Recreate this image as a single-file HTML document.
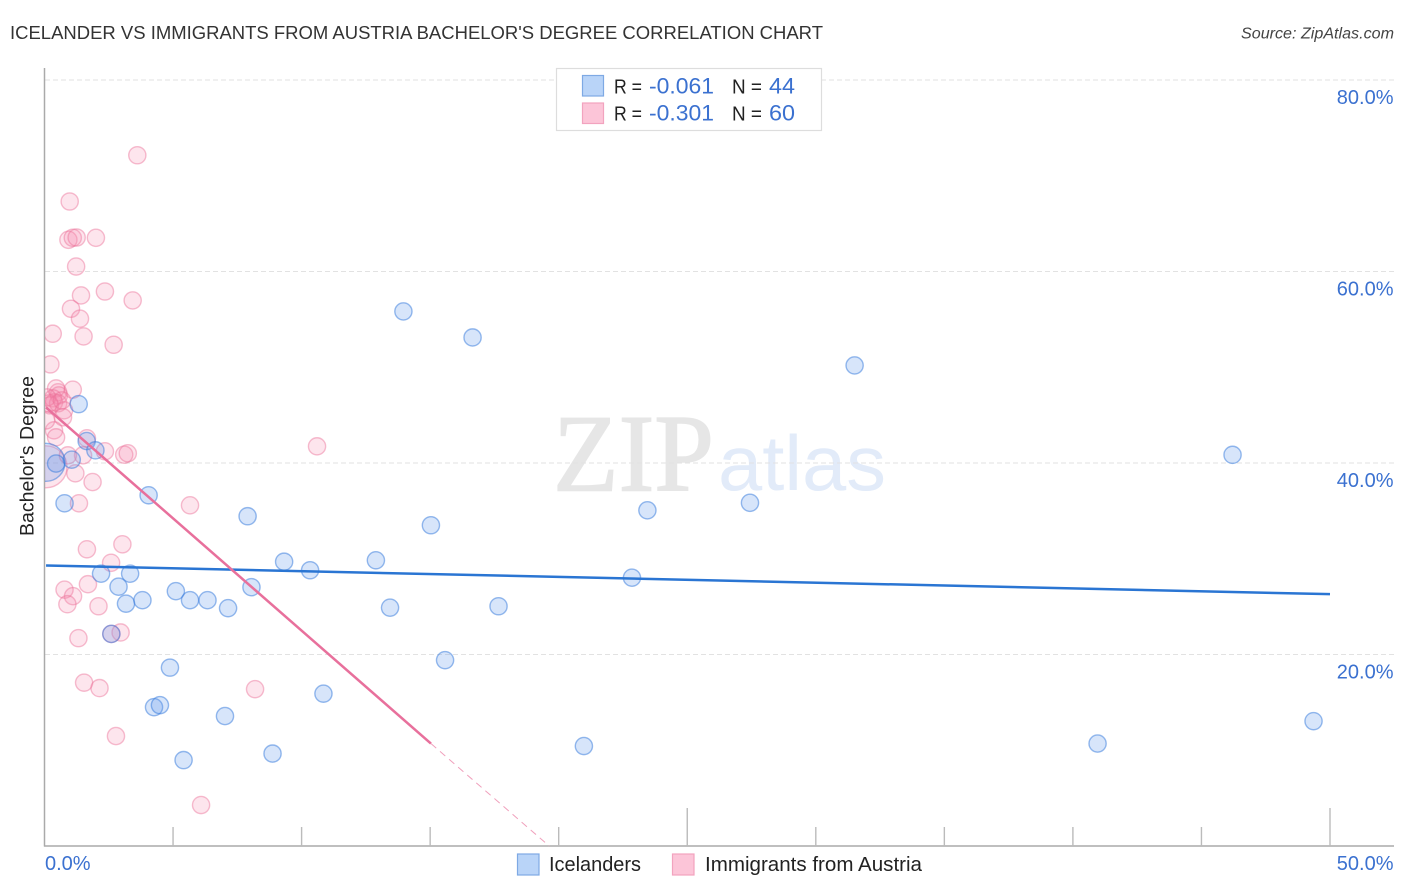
<!DOCTYPE html>
<html lang="en">
<head>
<meta charset="utf-8">
<title>Icelander vs Immigrants from Austria Bachelor's Degree Correlation Chart</title>
<style>
html,body{margin:0;padding:0;background:#fff;width:1406px;height:892px;overflow:hidden}
svg{display:block;font-family:"Liberation Sans",sans-serif}
</style>
</head>
<body>
<svg id="chart" xmlns="http://www.w3.org/2000/svg" width="1406" height="892" viewBox="0 0 1406 892">
  <defs>
    <clipPath id="plot-clip"><rect x="45" y="60" width="1349" height="786"/></clipPath>
  </defs>
  <rect x="0" y="0" width="1406" height="892" fill="#fff"/>
  <text x="10" y="39" font-size="18.5" fill="#333" textLength="813" lengthAdjust="spacingAndGlyphs">ICELANDER VS IMMIGRANTS FROM AUSTRIA BACHELOR'S DEGREE CORRELATION CHART</text>
  <text x="1241" y="38.5" font-size="15.5" font-style="italic" fill="#444" textLength="153" lengthAdjust="spacingAndGlyphs">Source: ZipAtlas.com</text>

  <g>
    <text x="553" y="490.5" font-family="'Liberation Serif',serif" font-size="110" fill="#e6e6e6" stroke="#e6e6e6" stroke-width="1.5" textLength="161" lengthAdjust="spacingAndGlyphs">ZIP</text>
    <text x="718" y="490" font-size="78" fill="#e2ebf9" textLength="168" lengthAdjust="spacingAndGlyphs">atlas</text>
  </g>

  <g id="grid"></g>
  <g id="axes"></g>
  <g id="points" clip-path="url(#plot-clip)"></g>
  <g id="trends"></g>
  <g id="tick-labels"></g>

  <text transform="translate(33.5,536) rotate(-90)" font-size="19.5" fill="#222" textLength="160" lengthAdjust="spacingAndGlyphs">Bachelor's Degree</text>

  <g>
    <rect x="556.5" y="68.5" width="265" height="62" fill="#fff" stroke="#ddd" stroke-width="1.2"/>
    <rect x="582.5" y="75.5" width="21" height="20.5" fill="#b9d4f8" stroke="#7ea9e4" stroke-width="1.2"/>
    <rect x="582.5" y="103" width="21" height="20.5" fill="#fcc5d8" stroke="#f2a3bf" stroke-width="1.2"/>
    <text x="614" y="93.5" font-size="20" fill="#222" textLength="28" lengthAdjust="spacingAndGlyphs">R =</text>
    <text x="649" y="93.5" font-size="22" fill="#3b71d0" textLength="65" lengthAdjust="spacingAndGlyphs">-0.061</text>
    <text x="732" y="93.5" font-size="20" fill="#222" textLength="30" lengthAdjust="spacingAndGlyphs">N =</text>
    <text x="769" y="93.5" font-size="22" fill="#3b71d0" textLength="26" lengthAdjust="spacingAndGlyphs">44</text>
    <text x="614" y="120.5" font-size="20" fill="#222" textLength="28" lengthAdjust="spacingAndGlyphs">R =</text>
    <text x="649" y="120.5" font-size="22" fill="#3b71d0" textLength="65" lengthAdjust="spacingAndGlyphs">-0.301</text>
    <text x="732" y="120.5" font-size="20" fill="#222" textLength="30" lengthAdjust="spacingAndGlyphs">N =</text>
    <text x="769" y="120.5" font-size="22" fill="#3b71d0" textLength="26" lengthAdjust="spacingAndGlyphs">60</text>
  </g>

  <g>
    <rect x="517.5" y="854" width="21.5" height="21" fill="#b9d4f8" stroke="#7ea9e4" stroke-width="1.2"/>
    <text x="549" y="871" font-size="20" fill="#222" textLength="92" lengthAdjust="spacingAndGlyphs">Icelanders</text>
    <rect x="672.5" y="854" width="21.5" height="21" fill="#fcc5d8" stroke="#f2a3bf" stroke-width="1.2"/>
    <text x="705" y="871" font-size="20" fill="#222" textLength="217" lengthAdjust="spacingAndGlyphs">Immigrants from Austria</text>
  </g>
</svg>
<script>
const yTickValues = [20, 40, 60, 80];
const yTickLabels = ["20.0%", "40.0%", "60.0%", "80.0%"];
const xTickValues = [0, 5, 10, 15, 20, 25, 30, 35, 40, 45, 50];
const xMajorTicks = [25, 50];
const xEndLabels = ["0.0%", "50.0%"];

const icelanderX = [13.96,16.65,31.51,46.21,1.33,1.64,1.98,1.06,0.45,0.78,4.05,7.90,15.03,23.45,27.44,12.89,9.32,10.33,2.20,3.33,2.88,8.05,3.17,3.81,5.11,5.66,6.34,7.14,13.44,17.66,22.85,2.60,15.58,4.88,10.85,4.26,4.49,7.02,8.87,5.41,20.98,40.96,49.36];
const icelanderY = [55.83,53.11,50.19,40.85,46.15,42.29,41.32,40.35,39.94,35.79,36.63,34.44,33.50,35.06,35.84,29.84,29.69,28.80,28.44,28.44,27.08,27.03,25.31,25.67,26.61,25.67,25.67,24.84,24.89,25.04,28.02,22.15,19.41,18.63,15.91,14.50,14.71,13.57,9.65,8.97,10.44,10.70,13.04];
const icelanderClusterX = [0.06];
const icelanderClusterY = [40.07];

const austriaX = [3.61,0.98,0.93,1.10,1.25,2.00,1.23,1.42,2.35,3.43,1.03,1.38,1.52,2.69,0.32,0.23,1.10,0.53,0.45,0.56,0.33,0.37,0.18,0.53,0.76,0.72,0.37,0.45,1.65,2.35,3.10,3.24,1.50,0.91,1.20,1.87,1.34,5.66,10.60,1.65,3.03,2.59,1.69,0.78,1.11,0.89,2.10,2.96,1.32,2.60,1.54,2.14,8.19,2.78,6.09,0.10,0.21,0.68,0.06];
const austriaY = [72.14,67.31,63.31,63.52,63.55,63.52,60.52,57.50,57.91,56.98,56.11,55.07,53.22,52.35,53.50,50.30,47.66,47.38,47.79,47.06,46.75,46.33,46.23,46.23,45.50,44.77,43.41,42.68,42.58,41.22,40.87,41.01,40.80,40.80,38.92,38.01,35.79,35.58,41.74,30.99,31.51,29.58,27.34,26.77,26.09,25.25,25.04,22.30,21.71,22.15,17.06,16.49,16.38,11.48,4.28,46.85,46.02,46.54,44.45];
const austriaClusterX = [0.06];
const austriaClusterY = [39.60];

const icelanderTrendX = [0.06, 50];
const icelanderTrendY = [29.3, 26.3];
const austriaTrendX = [0.06, 15.03];
const austriaTrendY = [45.8, 10.7];
const austriaTrendDashX = [15.03, 19.63];
const austriaTrendDashY = [10.7, 0];

const NS = "http://www.w3.org/2000/svg";
const xScale = v => 44.5 + 25.71 * v;
const yScale = v => 846 - 9.575 * v;

function make(tag, attrs, parent) {
  const el = document.createElementNS(NS, tag);
  for (const k in attrs) el.setAttribute(k, attrs[k]);
  parent.appendChild(el);
  return el;
}

const gridG = document.getElementById("grid");
const axesG = document.getElementById("axes");
const pointsG = document.getElementById("points");
const trendsG = document.getElementById("trends");
const labelsG = document.getElementById("tick-labels");

yTickValues.forEach((v, i) => {
  const line = make("line", {x1: 45, x2: 1394, y1: yScale(v), y2: yScale(v), stroke: "#e2e2e2", "stroke-width": 1, "stroke-dasharray": "5 3"}, gridG);
  
  
  const label = make("text", {x: 1393.5, y: yScale(v) + 24, "font-size": 20, fill: "#3b71d0", "text-anchor": "end"}, labelsG);
  label.textContent = yTickLabels[i];
  
  
});

const yAxis = make("line", {x1: 44.5, x2: 44.5, y1: 68, y2: 846.5, stroke: "#aaa", "stroke-width": 1.5}, axesG);


const xAxis = make("line", {x1: 44, x2: 1394, y1: 846, y2: 846, stroke: "#aaa", "stroke-width": 1.5}, axesG);



xTickValues.slice(1).forEach(v => {
  const top = xMajorTicks.includes(v) ? 808 : 827;
  const tick = make("line", {x1: xScale(v), x2: xScale(v), y1: top, y2: 846, stroke: "#bbb", "stroke-width": 1.4}, axesG);
  
  
});

const xLabelLeft = make("text", {x: 45, y: 870, "font-size": 20, fill: "#3b71d0"}, labelsG);
xLabelLeft.textContent = xEndLabels[0];


const xLabelRight = make("text", {x: 1393.5, y: 870, "font-size": 20, fill: "#3b71d0", "text-anchor": "end"}, labelsG);
xLabelRight.textContent = xEndLabels[1];



function drawPoints(xs, ys, r, fill, stroke, name) {
  xs.forEach((x, i) => {
    const c = make("circle", {cx: xScale(x), cy: yScale(ys[i]), r: r, fill: fill, stroke: stroke, "stroke-width": 1.4}, pointsG);
    
    
  });
}

const pinkFill = "rgba(246,135,172,0.22)";
const pinkStroke = "rgba(236,110,150,0.45)";
const blueFill = "rgba(95,150,235,0.25)";
const blueStroke = "rgba(50,120,220,0.5)";

drawPoints(austriaClusterX, austriaClusterY, 21, pinkFill, pinkStroke, "austria-point-large");
drawPoints(austriaX, austriaY, 8.6, pinkFill, pinkStroke, "austria-point");
drawPoints(icelanderClusterX, icelanderClusterY, 19, blueFill, blueStroke, "icelander-point-large");
drawPoints(icelanderX, icelanderY, 8.6, blueFill, blueStroke, "icelander-point");

const blueTrend = make("line", {x1: xScale(icelanderTrendX[0]), y1: yScale(icelanderTrendY[0]), x2: xScale(icelanderTrendX[1]), y2: yScale(icelanderTrendY[1]), stroke: "#2a75d3", "stroke-width": 2.5}, trendsG);


const pinkTrend = make("line", {x1: xScale(austriaTrendX[0]), y1: yScale(austriaTrendY[0]), x2: xScale(austriaTrendX[1]), y2: yScale(austriaTrendY[1]), stroke: "#e8709c", "stroke-width": 2.5}, trendsG);


const pinkDash = make("line", {x1: xScale(austriaTrendDashX[0]), y1: yScale(austriaTrendDashY[0]), x2: xScale(austriaTrendDashX[1]), y2: yScale(austriaTrendDashY[1]), stroke: "#f0a0bc", "stroke-width": 1, "stroke-dasharray": "7 5"}, trendsG);


</script>
</body>
</html>
